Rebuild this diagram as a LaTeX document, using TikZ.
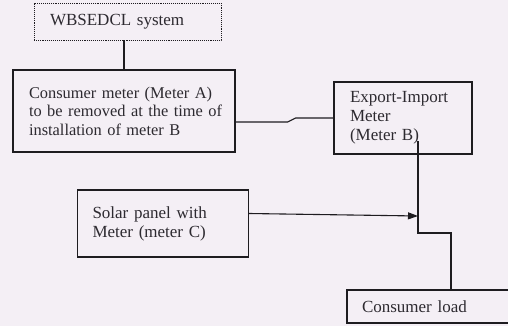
\documentclass[tikz,border=0pt]{standalone}
\usepackage{fontspec}
\setmainfont{Liberation Serif}
\usetikzlibrary{arrows.meta}
\definecolor{paper}{RGB}{244,239,245}
\definecolor{ink}{RGB}{30,28,32}
\definecolor{txt}{RGB}{45,42,48}
\tikzset{
  boxnode/.style={draw=ink, line width=1.1pt, rectangle, inner xsep=0pt,
    align=left, text=txt, font=\fontsize{17}{19}\selectfont},
  wire/.style={draw=ink, line width=1.1pt},
}
\hfuzz=30pt
\begin{document}
\begin{tikzpicture}[x=1pt,y=-1pt]
\fill[paper] (0,0) rectangle (508,326);
\useasboundingbox (0,0) rectangle (508,326);
\node[boxnode, densely dotted, line width=0.9pt, minimum width=187pt, minimum height=37pt, text width=155pt] (wb) at (127.5,21.5) {WBSEDCL system};
\node[boxnode, font=\fontsize{16.4}{18.5}\selectfont, minimum width=222pt, minimum height=82pt, text width=190pt] (ma) at (124,111)
  {Consumer meter (Meter A)\\\mbox{to be removed at the time of}\\installation of meter B};
\node[boxnode, minimum width=138pt, minimum height=72pt, text width=106pt] (mb) at (403,118)
  {Export-Import\\Meter\\(Meter B)};
\node[boxnode, minimum width=171pt, minimum height=67pt, text width=141pt] (sp) at (163,223.5)
  {Solar panel with\\Meter (meter C)\\[4pt]};
\node[boxnode, minimum width=190pt, minimum height=33pt, text width=160pt] (cl) at (442,306.5)
  {Consumer load};
\coordinate (bs) at (418,141);
\coordinate (jn) at (418,216);
\coordinate (kn) at (451,233);
\draw[wire] (wb.south -| ma.north) -- (ma.north);
\draw[wire] ([yshift=-11pt]ma.east) -- ++(52,0) -- ++(8,-4) |- (mb.west);
\draw[wire] (bs) |- (kn) -- (kn |- cl.north);
\draw[wire, -{Triangle[length=10pt,width=7pt]}] ([yshift=10pt]sp.east) -- (jn);
\end{tikzpicture}
\end{document}
